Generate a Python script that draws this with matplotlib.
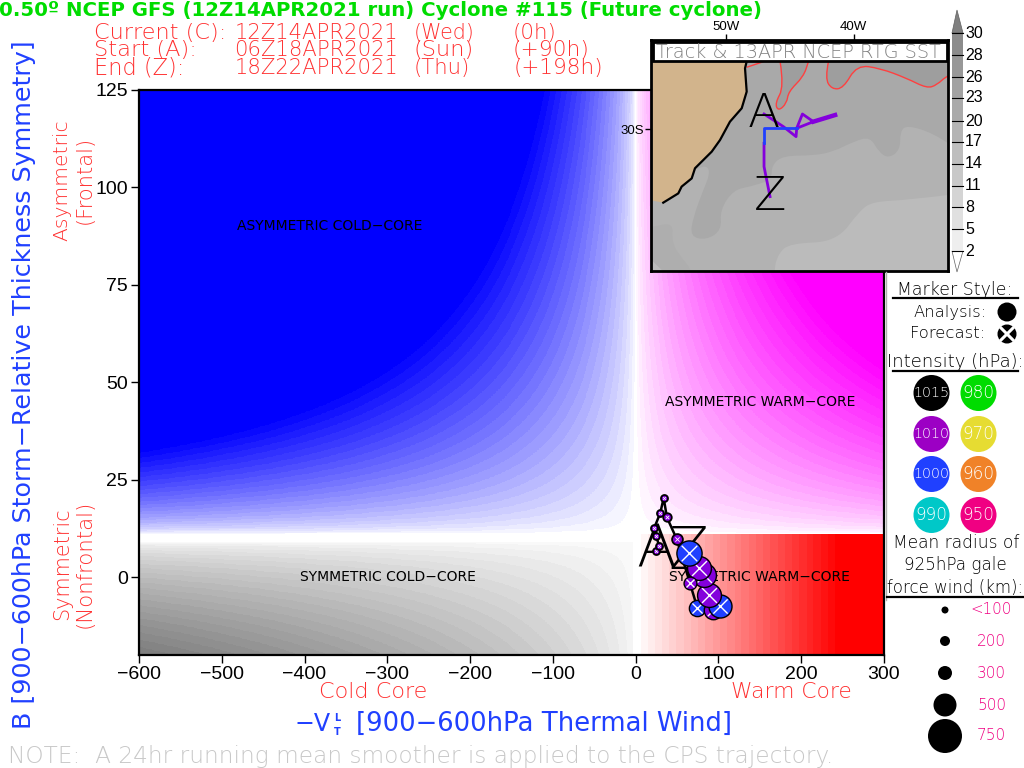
import numpy as np
import matplotlib
matplotlib.use("Agg")
import matplotlib.pyplot as plt
from matplotlib.patches import Circle, Polygon, Rectangle, PathPatch
from matplotlib.path import Path

W, H = 1024, 768

# cyclone phase space track (-VTL, B, gale radius km, pressure hPa)
track_x = [25, 28, 25, 22.6, 29.8, 33.8, 37.8, 49.5, 74.5, 93, 101.5, 88.5, 83, 77, 66, 64]
track_y = [6.7, 8.1, 10.6, 12.7, 16.5, 20.3, 15.3, 9.8, -7.9, -8.5, -7.4, -4.6, 0.5, 2.4, -1.6, 6.2]
track_radius = [100, 100, 100, 100, 100, 100, 150, 220, 350, 400, 500, 520, 520, 520, 270, 550]
track_mslp = [1010, 1010, 1010, 1010, 1010, 1010, 1010, 1010, 1000, 1010, 1000, 1010, 1010, 1010, 1010, 1000]

x_ticks = [-600, -500, -400, -300, -200, -100, 0, 100, 200, 300]
y_ticks = [0, 25, 50, 75, 100, 125]

# legend
mslp_levels = [1015, 1010, 1000, 990, 980, 970, 960, 950]
mslp_colors = ['#000000', '#9c00c4', '#2040ff', '#00c8c8', '#00dc00', '#e6dc32', '#f08228', '#f00082']
radius_labels = ['<100', '200', '300', '500', '750']
radius_km = [100, 200, 300, 500, 750]
radius_px = [3.5, 5, 7, 11.5, 17]

# inset map, lon / lat
land_lon = [-56.0, -48.33, -48.51, -48.38, -48.77, -49.69, -50.47, -51.12, -52.43, -52.69, -53.48, -53.74, -54.92, -56.0]
land_lat = [-25.2, -25.2, -25.85, -27.44, -28.57, -29.48, -30.73, -31.52, -32.65, -33.34, -33.90, -34.36, -34.99, -34.81]
sst_a_lon = [-32.6, -33.74, -35.83, -36.35, -36.35, -37.27, -38.05, -38.71, -40.01, -41.58, -43.15, -45.5, -46.42, -46.42, -48.12, -49.42, -50.47, -50.34, -51.52, -52.82, -52.56, -51.78, -51.25, -51.52, -52.43, -60, -60, -26]
sst_a_lat = [-30.95, -30.27, -29.71, -30.16, -31.41, -31.98, -31.52, -30.5, -30.84, -31.52, -31.79, -31.79, -32.43, -33.45, -33.9, -34.13, -35.49, -36.85, -37.53, -37.3, -35.94, -34.13, -33.0, -32.43, -32.77, -34.8, -46, -46]
sst_b_lon = [-32.6, -35.83, -38.44, -39.49, -41.32, -44.98, -45.9, -46.29, -46.3, -26]
sst_b_lat = [-34.47, -34.81, -34.92, -35.49, -37.64, -37.76, -38.44, -39.7, -46, -46]
sst_c_lon = [-60, -56.0, -54.13, -54.26, -53.35, -52.56, -52, -60]
sst_c_lat = [-36.9, -36.74, -36.28, -37.76, -38.89, -39.7, -46, -46]
sst_d_lon = [-56.0, -55.18, -54.9, -56.0]
sst_d_lat = [-38.77, -39.45, -39.7, -39.7]
red1_lon = [-48.38, -47.07]
red1_lat = [-25.78, -25.40]
red2_lon = [-45.76, -45.45, -46.16, -45.9, -45.24, -45.11, -43.93, -43.54]
red2_lat = [-25.4, -27.1, -28.23, -28.76, -28.23, -27.44, -26.42, -25.4]
red3_lon = [-41.97, -42.24, -41.71, -40.8, -39.75, -37.92, -35.83, -34.26, -33.48, -32.64, -30]
red3_lat = [-25.4, -26.53, -27.28, -27.21, -25.63, -25.85, -26.53, -27.21, -26.99, -26.31, -25.4]
map_track_lon = [-47.02, -45.5, -44.51, -44.46, -44.01, -43.15, -41.45, -43.15, -44.46]
map_track_lat = [-28.96, -29.82, -30.5, -29.93, -28.96, -29.48, -29.03, -29.48, -29.93]
map_blue_lon = [-44.46, -47.02, -47.02]
map_blue_lat = [-29.93, -29.93, -30.95]
map_end_lon = [-47.02, -47.02, -46.55]
map_end_lat = [-30.95, -32.54, -34.58]

# SST colour bar
sst_levels = ['30', '28', '26', '23', '20', '17', '14', '11', '8', '5', '2']
sst_grays = ['#8c8c8c', '#989898', '#a2a2a2', '#aaaaaa', '#b4b4b4', '#bebebe', '#c8c8c8', '#d4d4d4', '#e0e0e0', '#eeeeee']

THIN = dict(family='DejaVu Sans', fontweight=200)

fig = plt.figure(figsize=(W / 100, H / 100), dpi=100)


def px_axes(x0, y0, x1, y1, **kw):
    return fig.add_axes([x0 / W, 1 - y1 / H, (x1 - x0) / W, (y1 - y0) / H], **kw)


def smooth(lon, lat):
    # quadratic curve through the outline points, GrADS contours are rounded
    pts = list(zip(lon, lat))
    verts = [pts[0]]
    codes = [Path.MOVETO]
    for i in range(1, len(pts) - 1):
        mid = ((pts[i][0] + pts[i + 1][0]) / 2, (pts[i][1] + pts[i + 1][1]) / 2)
        verts += [pts[i], mid]
        codes += [Path.CURVE3, Path.CURVE3]
    verts.append(pts[-1])
    codes.append(Path.LINETO)
    return Path(verts, codes)


ax = px_axes(139, 90, 884, 655)
ax.set_xlim(-600, 300)
ax.set_ylim(-20, 125)

# background shading
gx = np.linspace(-600, 300, 1500)
gy = np.linspace(-20, 125, 900)
X, Y = np.meshgrid(gx, gy)
prod = np.abs(X) * np.abs(Y - 11)
upper = np.floor(np.minimum(prod / 12500, 1) ** 0.6 * 26) / 26
lower = np.ceil(np.minimum(np.abs(X) * np.clip(9 - Y, 0, None) / 17400, 1) ** 0.6 * 24) / 24
red = np.ceil(np.clip((X - 6) / 244, 0, 1) * 28) / 28
img = np.ones(X.shape + (3,))
m = (Y >= 11) & (X < 0)
img[m, 0] = 1 - upper[m]
img[m, 1] = 1 - upper[m]
m = (Y >= 11) & (X >= 0)
img[m, 1] = 1 - upper[m]
m = (Y < 11) & (X >= 0)
img[m, 1] = 1 - red[m]
img[m, 2] = 1 - red[m]
m = (Y < 9) & (X < -3)
for c in range(3):
    img[m, c] = 1 - 0.5 * lower[m]
ax.imshow(img, extent=[-600, 300, -20, 125], origin='lower', aspect='auto', interpolation='nearest', zorder=0)

ax.set_xticks(x_ticks)
ax.set_yticks(y_ticks)
ax.tick_params(length=6, width=1, labelsize=14, pad=2, labelfontfamily='Liberation Sans')
for s in ax.spines.values():
    s.set_linewidth(1.6)

for label, x, y in [('ASYMMETRIC COLD-CORE', -370, 90), ('SYMMETRIC COLD-CORE', -299, 0),
                    ('ASYMMETRIC WARM-CORE', 150, 45), ('SYMMETRIC WARM-CORE', 150, 0)]:
    ax.text(x, y, label.replace('-', '\u2212'), ha='center', va='center', fontsize=10, color='k', zorder=2)

# track and markers
ax.plot(track_x, track_y, color='k', lw=1.8, zorder=3)
ax.text(track_x[0], track_y[0], 'A', ha='center', va='center', fontsize=42, color='k', zorder=3, **THIN)
ax.text(track_x[-1], track_y[-1], 'Z', ha='center', va='center', fontsize=42, color='k', zorder=3, **THIN)
cmap = dict(zip(mslp_levels, mslp_colors))
cmap[1010] = '#8400dc'
for i in range(len(track_x)):
    r = np.interp(track_radius[i], radius_km, radius_px)
    z = 4 + i * 0.01
    small = r < 6
    ax.scatter(track_x[i], track_y[i], s=(1.44 * r) ** 2, color=cmap[track_mslp[i]], edgecolors='k',
               linewidths=1.3 if small else 1.0, zorder=z, clip_on=False)
    ax.scatter(track_x[i], track_y[i], s=(1.44 * r * (0.4 if small else 0.62)) ** 2, marker='x', color='w',
               linewidths=0.6 if small else 1.0, zorder=z + 0.001)

# inset map
mp = px_axes(651, 40, 948, 271, zorder=5)
mp.set_xlim(-55.88, -32.6)
mp.set_ylim(-39.64, -30 + (129.3 - 40) / 14.7)
mp.set_facecolor('#a9a9a9')
mp.add_patch(PathPatch(smooth(sst_a_lon, sst_a_lat), fc='#b2b2b2', ec='none'))
mp.add_patch(PathPatch(smooth(sst_b_lon, sst_b_lat), fc='#bbbbbb', ec='none'))
mp.add_patch(PathPatch(smooth(sst_c_lon, sst_c_lat), fc='#aeaeae', ec='none'))
mp.add_patch(Polygon(np.c_[sst_d_lon, sst_d_lat], fc='#bbbbbb', ec='none'))
mp.add_patch(PathPatch(smooth(red2_lon, red2_lat), fc='#9e9e9e', ec='none'))
mp.add_patch(PathPatch(smooth(red3_lon, red3_lat), fc='#9e9e9e', ec='none'))
mp.fill(land_lon, land_lat, fc='#d2b48c', ec='none')
mp.plot(land_lon[1:13], land_lat[1:13], color='k', lw=1.6)
for lo, la in [(red1_lon, red1_lat), (red2_lon, red2_lat), (red3_lon, red3_lat)]:
    mp.add_patch(PathPatch(smooth(lo, la), fc='none', ec='#ff4040', lw=1))
mp.plot(map_track_lon, map_track_lat, color='#8400dc', lw=2)
mp.plot(map_track_lon[5:7], map_track_lat[5:7], color='#8400dc', lw=3.2)
mp.plot(map_end_lon, map_end_lat, color='#8400dc', lw=2)
mp.plot(map_blue_lon, map_blue_lat, color='#2040ff', lw=2)
mp.text(map_track_lon[0], map_track_lat[0], 'A', ha='center', va='center', fontsize=34, color='k', **THIN)
mp.text(map_end_lon[-1], map_end_lat[-1], 'Z', ha='center', va='center', fontsize=34, color='k', **THIN)
mp.set_xticks([-50, -40])
mp.set_xticklabels(['50W', '40W'], fontsize=9.5, family='Liberation Sans')
mp.xaxis.tick_top()
mp.set_yticks([-30])
mp.set_yticklabels(['30S'], fontsize=9.5, family='Liberation Sans')
mp.tick_params(length=4, width=1, pad=1)
for s in mp.spines.values():
    s.set_linewidth(2)

# everything below placed in figure pixels
ov = px_axes(0, 0, W, H, zorder=10)
ov.set_xlim(0, W)
ov.set_ylim(H, 0)
ov.axis('off')
renderer = fig.canvas.get_renderer()


def put(s, x0, x1, y, color='k', **kw):
    # place text between x0 and x1 (pixels), font size fitted to that span
    t = ov.text((x0 + x1) / 2, y, s, color=color, ha='center', va='center', fontsize=12, **kw)
    t.set_fontsize(12 * abs(x1 - x0) / t.get_window_extent(renderer).width)
    return t


def vput(s, x, y0, y1, color='k', **kw):
    t = ov.text(x, (y0 + y1) / 2, s, color=color, ha='center', va='center', rotation=90, fontsize=12, **kw)
    t.set_fontsize(12 * abs(y1 - y0) / t.get_window_extent(renderer).height)
    return t


put('0.50\u00ba NCEP GFS (12Z14APR2021 run) Cyclone #115 (Future cyclone)', 1, 760, 10, '#00dc00', fontweight='bold')

RED = '#ff3030'
for row, y in [(('Current (C):', 94, 226, '12Z14APR2021', '(Wed)', 475, '(0h)', 557), 33),
               (('Start (A):', 94, 196, '06Z18APR2021', '(Sun)', 474, '(+90h)', 590), 50),
               (('End (Z):', 94, 184, '18Z22APR2021', '(Thu)', 470, '(+198h)', 603), 68)]:
    put(row[0], row[1], row[2], y, RED, **THIN)
    put(row[3], 235, 398, y, RED, **THIN)
    put(row[4], 414, row[5], y, RED, **THIN)
    put(row[6], 513, row[7], y, RED, **THIN)

BLUE = '#2040ff'
vput('B [900\u2212600hPa Storm\u2212Relative Thickness Symmetry]', 24, 730, 40, BLUE)
vput('Asymmetric', 62, 241, 120, RED, **THIN)
vput('(Frontal)', 85, 224, 136, RED, **THIN)
vput('Symmetric', 62, 620, 508, RED, **THIN)
vput('(Nonfrontal)', 85, 628, 500, RED, **THIN)
put('Cold Core', 319, 427, 692, RED, **THIN)
put('Warm Core', 731, 852, 692, RED, **THIN)
put('\u2212V', 295, 331, 724, BLUE)
ov.text(337, 718, 'L', color=BLUE, fontsize=7, ha='center', va='center', fontweight='bold')
ov.text(337, 732, 'T', color=BLUE, fontsize=7, ha='center', va='center', fontweight='bold')
put('[900\u2212600hPa Thermal Wind]', 357, 731, 724, BLUE)
put('NOTE:  A 24hr running mean smoother is applied to the CPS trajectory.', 10, 832, 756, '#c8c8c8', **THIN)

# inset title bar
ov.add_patch(Rectangle((652.5, 42), 294, 19, fc='w', ec='k', lw=2))
put('Track & 13APR NCEP RTG SST', 657, 940, 52, '#808080', **THIN)
ov.plot([886, 886], [272, 600], color='#b0b0b0', lw=1)

# colour bar
tops = [33, 55, 77, 98, 121, 142, 164, 186, 207, 229, 251]
ov.add_patch(Polygon([(952, 33), (957, 10), (963, 33)], fc='#808080', ec='#606060', lw=0.5))
ov.add_patch(Polygon([(952, 251), (957, 272), (963, 251)], fc='w', ec='#606060', lw=0.5))
for i, g in enumerate(sst_grays):
    ov.add_patch(Rectangle((952, tops[i]), 11, tops[i + 1] - tops[i], fc=g, ec='none'))
    ov.plot([952, 963], [tops[i], tops[i]], color='k', lw=0.8)
ov.plot([952, 963], [tops[-1], tops[-1]], color='k', lw=0.8)
for lab, y in zip(sst_levels, tops):
    ov.text(965, y, lab, fontsize=11.5, family='Liberation Sans', va='center', ha='left')

# right hand legend
put('Marker Style:', 897, 1012, 290, **THIN)
ov.plot([893, 1018], [297.5, 297.5], color='k', lw=1.6)
put('Analysis:', 914, 987, 312, **THIN)
ov.add_patch(Circle((1007, 312), 9.5, fc='k', ec='none'))
put('Forecast:', 910, 985, 334, **THIN)
ov.add_patch(Circle((1007, 334), 9.5, fc='k', ec='none'))
ov.plot([1001, 1013], [328, 340], color='w', lw=2.2)
ov.plot([1001, 1013], [340, 328], color='w', lw=2.2)
put('Intensity (hPa):', 887, 1023, 362, **THIN)
ov.plot([893, 1018], [371, 371], color='k', lw=1.6)
cx = [931.5, 931.5, 931.5, 931.5, 978.5, 978.5, 978.5, 978.5]
cy = [393, 434, 474, 515, 393, 434, 474, 515]
for lev, col, x, y in zip(mslp_levels, mslp_colors, cx, cy):
    ov.add_patch(Circle((x, y), 18, fc=col, ec='none'))
    w = 18 if lev > 999 else 16
    put(str(lev), x - w, x + w, y, 'w', **THIN)
put('Mean radius of', 893, 1019, 543, **THIN)
put('925hPa gale', 904, 1007, 565, **THIN)
put('force wind (km):', 887, 1023, 588, **THIN)
ov.plot([887, 1024], [596.5, 596.5], color='k', lw=1.6)
ys = [610, 641, 673, 705, 736]
spans = [(971, 1012), (977, 1006), (977, 1006), (977, 1006), (977, 1006)]
for lab, r, y, sp in zip(radius_labels, radius_px, ys, spans):
    ov.add_patch(Circle((945, y), r, fc='k', ec='none'))
    put(lab, sp[0], sp[1], y, '#f00082', **THIN)

fig.savefig('out.png', dpi=100)
